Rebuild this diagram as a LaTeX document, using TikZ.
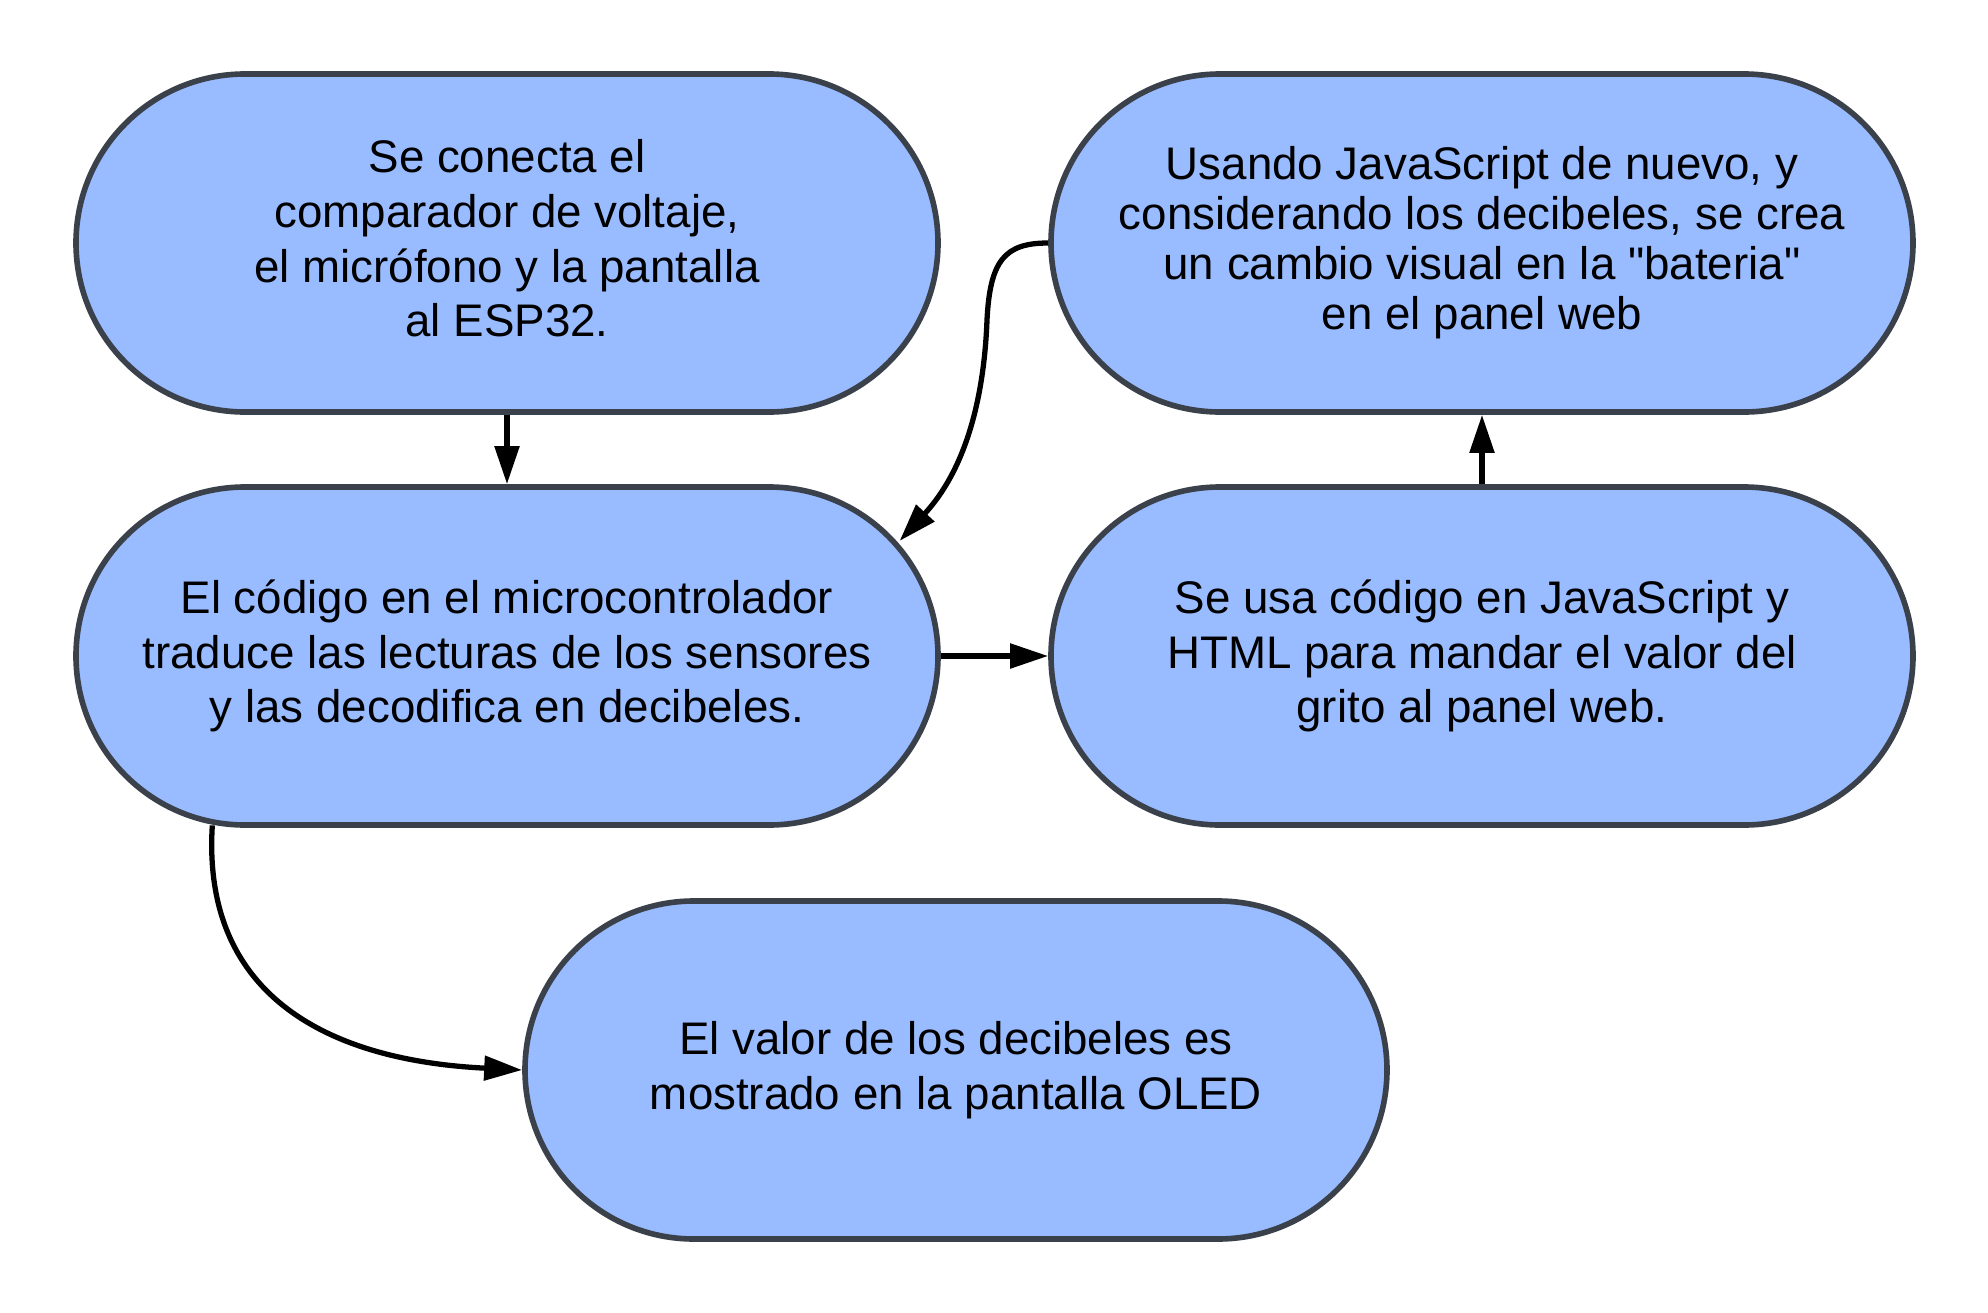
\documentclass[tikz,border=0pt]{standalone}
\usepackage{fontspec}
\newfontfamily\letra{Liberation Sans}
\usetikzlibrary{arrows.meta,calc}

\definecolor{cajaazul}{HTML}{99BBFF}
\definecolor{bordegris}{HTML}{3A414A}

\begin{document}
\begin{tikzpicture}[
    etapa/.style={draw=bordegris, fill=cajaazul, line width=1.6pt,
        rectangle, rounded corners=16.9mm, minimum width=8.62cm,
        minimum height=3.38cm, align=center, text=black,
        font=\letra\fontsize{13pt}{15.6pt}\selectfont},
    flecha/.style={line width=1.5pt, -{Triangle[length=3.8mm,width=2.4mm]}}
]

    \useasboundingbox (0,0) rectangle (19.88,-13.13);

    \node[etapa, text depth=2.8pt] (conexion) at (5.07,-2.43) {Se conecta el\\comparador de voltaje,\\el micrófono y la pantalla\\al ESP32.};
    \node[etapa] (codigo) at (5.07,-6.56) {El código en el microcontrolador\\traduce las lecturas de los sensores\\y las decodifica en decibeles.};
    \node[etapa] (javascript) at (14.82,-6.56) {Se usa código en JavaScript y\\HTML para mandar el valor del\\grito al panel web.};
    \node[etapa, font=\letra\fontsize{13pt}{14.2pt}\selectfont] (bateria) at (14.82,-2.43) {Usando JavaScript de nuevo, y\\considerando los decibeles, se crea\\un cambio visual en la "bateria"\\en el panel web};
    \node[etapa] (oled) at (9.56,-10.70) {El valor de los decibeles es\\mostrado en la pantalla OLED};

    % puntos sobre los extremos redondeados
    \coordinate (codigoarriba) at ($(codigo.east)+(-1.69,0)+(42:1.72)$);
    \coordinate (codigoabajo) at ($(codigo.west)+(1.69,0)+(-100:1.72)$);

    \draw[flecha] (conexion.south) -- (codigo.north);
    \draw[flecha] (codigo.east) -- (javascript.west);
    \draw[flecha] (javascript.north) -- (bateria.south);

    \draw[flecha] (bateria.west) .. controls (10.05,-2.43) and (9.90,-2.60) .. (9.87,-3.20)
        .. controls (9.84,-4.00) and (9.65,-4.70) .. (codigoarriba);
    \draw[flecha] (codigoabajo) .. controls (2.02,-9.90) and (3.20,-10.60) .. (oled.west);

\end{tikzpicture}
\end{document}
